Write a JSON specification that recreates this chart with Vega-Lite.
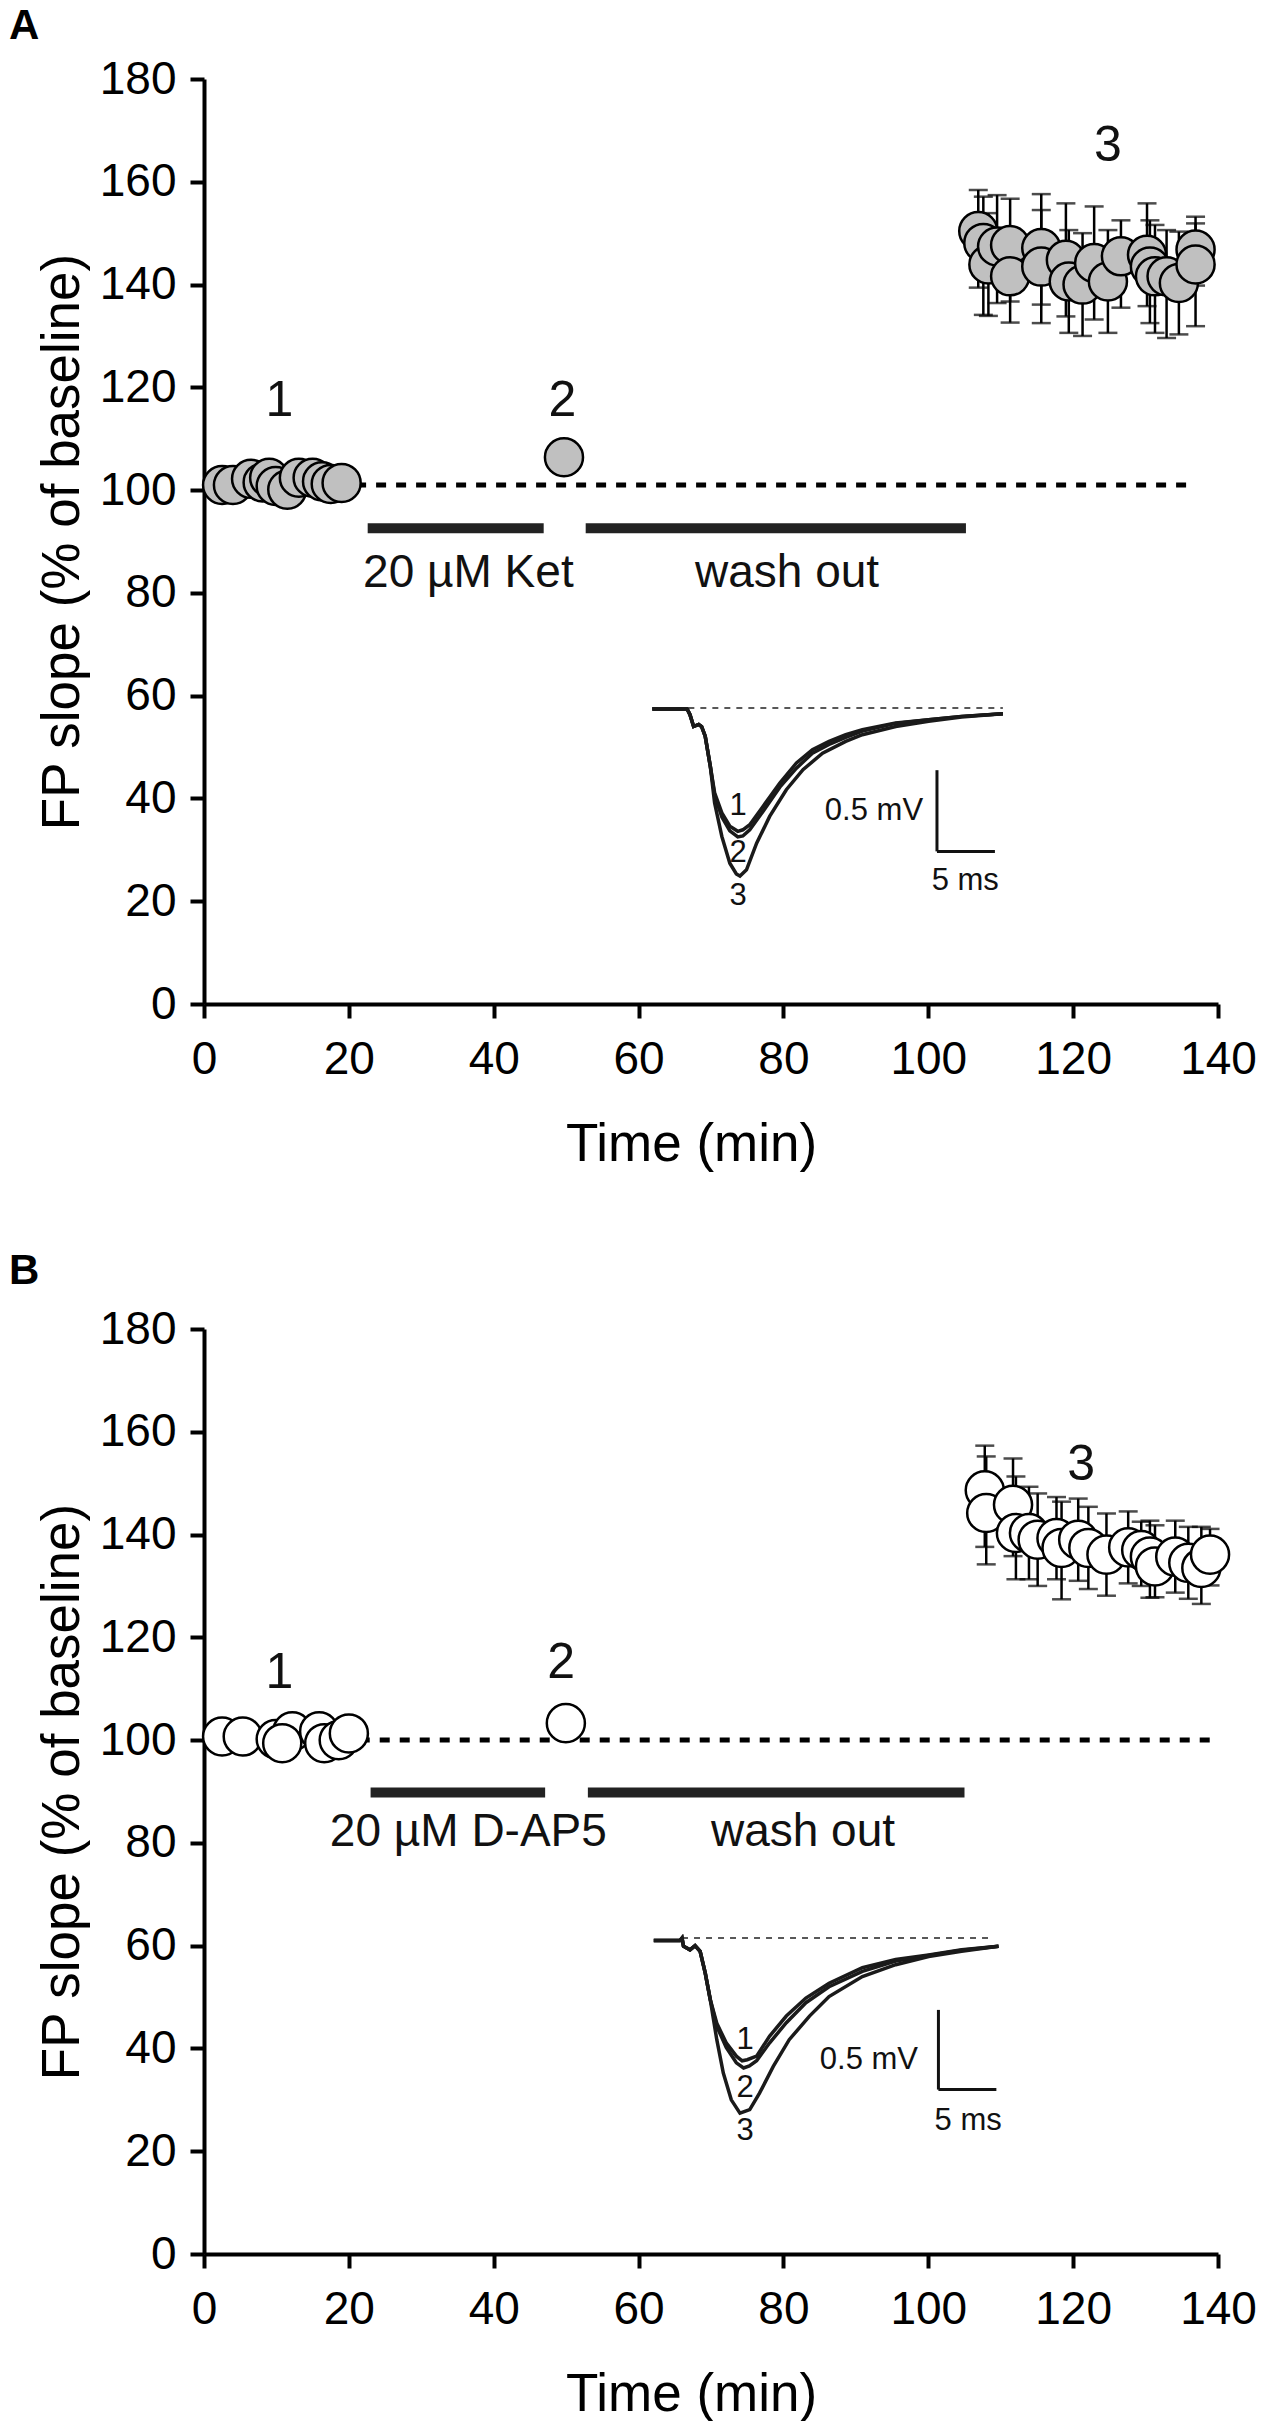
{
  "$schema": "https://vega.github.io/schema/vega-lite/v6.json",
  "background": "white",
  "padding": {"left": 9, "top": 5, "right": 0, "bottom": 0},
  "config": {
    "view": {"stroke": null},
    "font": "Liberation Sans",
    "axis": {
      "grid": false, "domainColor": "black", "domainWidth": 4, "tickColor": "black", "tickWidth": 4, "tickSize": 14,
      "labelFont": "Liberation Sans", "labelFontSize": 46, "labelColor": "black", "labelOverlap": false, "labelFlush": false,
      "titleFont": "Liberation Sans", "titleFontSize": 53, "titleFontWeight": "normal", "titleColor": "black"
    },
    "axisX": {"labelPadding": 19, "titlePadding": 36, "titleX": 487},
    "axisY": {"labelPadding": 14, "titlePadding": 10}
  },
  "spacing": 325,
  "bounds": "flush",
  "datasets": {
    "A": [
      {"kind": "base", "t": 21, "t2": 136, "y": 101, "y2": 101},
      {"kind": "bar", "t": 22.6, "t2": 46.9, "y": 92.6, "y2": 92.6},
      {"kind": "bar", "t": 52.7, "t2": 105.2, "y": 92.6, "y2": 92.6},
      {"kind": "idash", "t": 61.9, "t2": 110.3, "y": 57.6, "y2": 57.6},
      {"kind": "scale", "t": 101.2, "t2": 101.2, "y": 29.7, "y2": 45.5},
      {"kind": "scale", "t": 101.2, "t2": 109.2, "y": 29.7, "y2": 29.7},

      {"kind": "trace", "id": "1", "t": 61.9, "y": 57.4}, {"kind": "trace", "id": "1", "t": 66.7, "y": 57.4},
      {"kind": "trace", "id": "1", "t": 67.1, "y": 56.3}, {"kind": "trace", "id": "1", "t": 67.6, "y": 54.0},
      {"kind": "trace", "id": "1", "t": 68.3, "y": 54.4}, {"kind": "trace", "id": "1", "t": 68.7, "y": 54.0},
      {"kind": "trace", "id": "1", "t": 69.2, "y": 52.1}, {"kind": "trace", "id": "1", "t": 69.9, "y": 46.3},
      {"kind": "trace", "id": "1", "t": 70.5, "y": 41.1}, {"kind": "trace", "id": "1", "t": 71.5, "y": 37.2},
      {"kind": "trace", "id": "1", "t": 72.6, "y": 34.6}, {"kind": "trace", "id": "1", "t": 73.7, "y": 33.6},
      {"kind": "trace", "id": "1", "t": 74.4, "y": 33.9}, {"kind": "trace", "id": "1", "t": 75.35, "y": 34.9},
      {"kind": "trace", "id": "1", "t": 77.2, "y": 38.5}, {"kind": "trace", "id": "1", "t": 79.5, "y": 43.0},
      {"kind": "trace", "id": "1", "t": 81.8, "y": 46.9}, {"kind": "trace", "id": "1", "t": 84.0, "y": 49.5},
      {"kind": "trace", "id": "1", "t": 86.3, "y": 51.1}, {"kind": "trace", "id": "1", "t": 88.6, "y": 52.4},
      {"kind": "trace", "id": "1", "t": 90.9, "y": 53.4}, {"kind": "trace", "id": "1", "t": 95.5, "y": 54.7},
      {"kind": "trace", "id": "1", "t": 100.05, "y": 55.3}, {"kind": "trace", "id": "1", "t": 104.6, "y": 55.97},
      {"kind": "trace", "id": "1", "t": 110.3, "y": 56.5},

      {"kind": "trace", "id": "2", "t": 61.9, "y": 57.4}, {"kind": "trace", "id": "2", "t": 66.7, "y": 57.4},
      {"kind": "trace", "id": "2", "t": 67.1, "y": 56.3}, {"kind": "trace", "id": "2", "t": 67.6, "y": 54.0},
      {"kind": "trace", "id": "2", "t": 68.3, "y": 54.4}, {"kind": "trace", "id": "2", "t": 68.7, "y": 54.0},
      {"kind": "trace", "id": "2", "t": 69.2, "y": 52.1}, {"kind": "trace", "id": "2", "t": 69.9, "y": 46.3},
      {"kind": "trace", "id": "2", "t": 70.5, "y": 40.6}, {"kind": "trace", "id": "2", "t": 71.5, "y": 36.4},
      {"kind": "trace", "id": "2", "t": 72.6, "y": 33.7}, {"kind": "trace", "id": "2", "t": 73.7, "y": 32.5},
      {"kind": "trace", "id": "2", "t": 74.4, "y": 32.7}, {"kind": "trace", "id": "2", "t": 75.35, "y": 33.9},
      {"kind": "trace", "id": "2", "t": 77.2, "y": 37.5}, {"kind": "trace", "id": "2", "t": 79.5, "y": 42.2},
      {"kind": "trace", "id": "2", "t": 81.8, "y": 45.9}, {"kind": "trace", "id": "2", "t": 84.0, "y": 48.8},
      {"kind": "trace", "id": "2", "t": 86.3, "y": 50.5}, {"kind": "trace", "id": "2", "t": 88.6, "y": 51.9},
      {"kind": "trace", "id": "2", "t": 90.9, "y": 53.1}, {"kind": "trace", "id": "2", "t": 95.5, "y": 54.6},
      {"kind": "trace", "id": "2", "t": 100.05, "y": 55.3}, {"kind": "trace", "id": "2", "t": 104.6, "y": 55.97},
      {"kind": "trace", "id": "2", "t": 110.3, "y": 56.5},

      {"kind": "trace", "id": "3", "t": 61.9, "y": 57.4}, {"kind": "trace", "id": "3", "t": 66.7, "y": 57.4},
      {"kind": "trace", "id": "3", "t": 67.1, "y": 56.3}, {"kind": "trace", "id": "3", "t": 67.6, "y": 54.0},
      {"kind": "trace", "id": "3", "t": 68.3, "y": 54.4}, {"kind": "trace", "id": "3", "t": 68.7, "y": 54.0},
      {"kind": "trace", "id": "3", "t": 69.2, "y": 52.1}, {"kind": "trace", "id": "3", "t": 69.9, "y": 46.3},
      {"kind": "trace", "id": "3", "t": 70.5, "y": 39.1}, {"kind": "trace", "id": "3", "t": 71.5, "y": 32.6},
      {"kind": "trace", "id": "3", "t": 72.6, "y": 27.4}, {"kind": "trace", "id": "3", "t": 73.5, "y": 25.3},
      {"kind": "trace", "id": "3", "t": 74.0, "y": 24.9}, {"kind": "trace", "id": "3", "t": 74.9, "y": 26.1},
      {"kind": "trace", "id": "3", "t": 76.3, "y": 31.3}, {"kind": "trace", "id": "3", "t": 78.1, "y": 36.5},
      {"kind": "trace", "id": "3", "t": 80.4, "y": 41.7}, {"kind": "trace", "id": "3", "t": 82.7, "y": 45.6},
      {"kind": "trace", "id": "3", "t": 85.4, "y": 48.8}, {"kind": "trace", "id": "3", "t": 88.6, "y": 51.1},
      {"kind": "trace", "id": "3", "t": 90.9, "y": 52.4}, {"kind": "trace", "id": "3", "t": 95.5, "y": 54.0},
      {"kind": "trace", "id": "3", "t": 100.05, "y": 55.0}, {"kind": "trace", "id": "3", "t": 104.6, "y": 55.85},
      {"kind": "trace", "id": "3", "t": 110.3, "y": 56.5},

      {"kind": "pt", "t": 2.5, "y": 101.0}, {"kind": "pt", "t": 4.0, "y": 101.0},
      {"kind": "pt", "t": 6.5, "y": 102.2}, {"kind": "pt", "t": 8.1, "y": 101.5},
      {"kind": "pt", "t": 9.0, "y": 102.4}, {"kind": "pt", "t": 9.9, "y": 100.8},
      {"kind": "pt", "t": 11.5, "y": 100.1}, {"kind": "pt", "t": 13.1, "y": 102.4},
      {"kind": "pt", "t": 15.0, "y": 102.4}, {"kind": "pt", "t": 16.3, "y": 101.7},
      {"kind": "pt", "t": 17.5, "y": 101.2}, {"kind": "pt", "t": 19.0, "y": 101.4},
      {"kind": "pt", "t": 49.7, "y": 106.4},
      {"kind": "pt", "t": 106.9, "y": 150.4, "lo": 139.4, "hi": 158.4},
      {"kind": "pt", "t": 107.6, "y": 148.1, "lo": 134.1, "hi": 157.1},
      {"kind": "pt", "t": 108.3, "y": 143.9, "lo": 133.9, "hi": 153.9},
      {"kind": "pt", "t": 109.5, "y": 147.4, "lo": 136.4, "hi": 157.4},
      {"kind": "pt", "t": 111.3, "y": 147.7, "lo": 136.7, "hi": 156.7},
      {"kind": "pt", "t": 111.3, "y": 141.6, "lo": 132.6, "hi": 150.6},
      {"kind": "pt", "t": 115.6, "y": 147.1, "lo": 136.1, "hi": 157.6},
      {"kind": "pt", "t": 115.6, "y": 143.5, "lo": 132.5, "hi": 154.5},
      {"kind": "pt", "t": 119.0, "y": 144.8, "lo": 133.8, "hi": 155.8},
      {"kind": "pt", "t": 119.4, "y": 140.6, "lo": 130.6, "hi": 150.6},
      {"kind": "pt", "t": 121.3, "y": 140.0, "lo": 130.0, "hi": 150.0},
      {"kind": "pt", "t": 122.9, "y": 144.2, "lo": 133.2, "hi": 155.2},
      {"kind": "pt", "t": 124.8, "y": 140.6, "lo": 130.6, "hi": 150.6},
      {"kind": "pt", "t": 126.6, "y": 145.5, "lo": 135.5, "hi": 152.5},
      {"kind": "pt", "t": 130.2, "y": 145.8, "lo": 135.8, "hi": 155.8},
      {"kind": "pt", "t": 130.6, "y": 143.5, "lo": 132.5, "hi": 152.5},
      {"kind": "pt", "t": 131.3, "y": 141.6, "lo": 130.6, "hi": 151.6},
      {"kind": "pt", "t": 132.9, "y": 141.6, "lo": 129.6, "hi": 150.6},
      {"kind": "pt", "t": 134.6, "y": 140.3, "lo": 130.3, "hi": 150.3},
      {"kind": "pt", "t": 136.9, "y": 146.8, "lo": 139.8, "hi": 153.2},
      {"kind": "pt", "t": 136.9, "y": 143.9, "lo": 131.9, "hi": 151.9},

      {"kind": "big", "t": 10.4, "y": 117.3, "label": "1"},
      {"kind": "big", "t": 49.5, "y": 117.3, "label": "2"},
      {"kind": "big", "t": 124.8, "y": 167.0, "label": "3"},
      {"kind": "mid", "t": 36.5, "y": 83.9, "label": "20 µM Ket"},
      {"kind": "mid", "t": 80.5, "y": 83.9, "label": "wash out"},
      {"kind": "small", "t": 92.5, "y": 37.5, "label": "0.5 mV"},
      {"kind": "small", "t": 105.1, "y": 23.9, "label": "5 ms"},
      {"kind": "small", "t": 73.75, "y": 38.5, "label": "1"},
      {"kind": "small", "t": 73.75, "y": 29.4, "label": "2"},
      {"kind": "small", "t": 73.75, "y": 21.0, "label": "3"}
    ],
    "B": [
      {"kind": "base", "t": 21.5, "t2": 140, "y": 100, "y2": 100},
      {"kind": "bar", "t": 23.0, "t2": 47.1, "y": 89.8, "y2": 89.8},
      {"kind": "bar", "t": 53.0, "t2": 105.0, "y": 89.8, "y2": 89.8},
      {"kind": "idash", "t": 66.0, "t2": 108.7, "y": 61.5, "y2": 61.5},
      {"kind": "scale", "t": 101.4, "t2": 101.4, "y": 32.0, "y2": 47.5},
      {"kind": "scale", "t": 101.4, "t2": 109.4, "y": 32.0, "y2": 32.0},

      {"kind": "trace", "id": "1", "t": 62.1, "y": 61.0}, {"kind": "trace", "id": "1", "t": 65.7, "y": 61.0},
      {"kind": "trace", "id": "1", "t": 66.0, "y": 61.5}, {"kind": "trace", "id": "1", "t": 66.2, "y": 59.9},
      {"kind": "trace", "id": "1", "t": 67.1, "y": 59.2}, {"kind": "trace", "id": "1", "t": 67.8, "y": 60.0},
      {"kind": "trace", "id": "1", "t": 68.5, "y": 58.9}, {"kind": "trace", "id": "1", "t": 69.2, "y": 54.7},
      {"kind": "trace", "id": "1", "t": 69.9, "y": 49.5}, {"kind": "trace", "id": "1", "t": 70.8, "y": 44.9},
      {"kind": "trace", "id": "1", "t": 72.1, "y": 41.1}, {"kind": "trace", "id": "1", "t": 73.5, "y": 38.5},
      {"kind": "trace", "id": "1", "t": 74.3, "y": 37.6}, {"kind": "trace", "id": "1", "t": 75.0, "y": 37.8},
      {"kind": "trace", "id": "1", "t": 76.3, "y": 38.5}, {"kind": "trace", "id": "1", "t": 78.1, "y": 42.4},
      {"kind": "trace", "id": "1", "t": 80.4, "y": 46.3}, {"kind": "trace", "id": "1", "t": 83.1, "y": 49.8},
      {"kind": "trace", "id": "1", "t": 86.3, "y": 52.7}, {"kind": "trace", "id": "1", "t": 90.9, "y": 55.7},
      {"kind": "trace", "id": "1", "t": 95.5, "y": 57.3}, {"kind": "trace", "id": "1", "t": 100.05, "y": 58.2},
      {"kind": "trace", "id": "1", "t": 104.6, "y": 59.2}, {"kind": "trace", "id": "1", "t": 109.7, "y": 59.9},

      {"kind": "trace", "id": "2", "t": 62.1, "y": 61.0}, {"kind": "trace", "id": "2", "t": 65.7, "y": 61.0},
      {"kind": "trace", "id": "2", "t": 66.0, "y": 61.5}, {"kind": "trace", "id": "2", "t": 66.2, "y": 59.9},
      {"kind": "trace", "id": "2", "t": 67.1, "y": 59.2}, {"kind": "trace", "id": "2", "t": 67.8, "y": 60.0},
      {"kind": "trace", "id": "2", "t": 68.5, "y": 58.9}, {"kind": "trace", "id": "2", "t": 69.2, "y": 54.7},
      {"kind": "trace", "id": "2", "t": 69.9, "y": 49.5}, {"kind": "trace", "id": "2", "t": 70.8, "y": 44.3},
      {"kind": "trace", "id": "2", "t": 72.1, "y": 40.2}, {"kind": "trace", "id": "2", "t": 73.5, "y": 37.2},
      {"kind": "trace", "id": "2", "t": 74.5, "y": 36.2}, {"kind": "trace", "id": "2", "t": 75.3, "y": 36.6},
      {"kind": "trace", "id": "2", "t": 76.3, "y": 37.6}, {"kind": "trace", "id": "2", "t": 78.1, "y": 41.1},
      {"kind": "trace", "id": "2", "t": 80.4, "y": 45.0}, {"kind": "trace", "id": "2", "t": 83.1, "y": 48.9},
      {"kind": "trace", "id": "2", "t": 86.3, "y": 52.0}, {"kind": "trace", "id": "2", "t": 90.9, "y": 55.0},
      {"kind": "trace", "id": "2", "t": 95.5, "y": 57.0}, {"kind": "trace", "id": "2", "t": 100.05, "y": 58.1},
      {"kind": "trace", "id": "2", "t": 104.6, "y": 59.1}, {"kind": "trace", "id": "2", "t": 109.7, "y": 59.9},

      {"kind": "trace", "id": "3", "t": 62.1, "y": 61.0}, {"kind": "trace", "id": "3", "t": 65.7, "y": 61.0},
      {"kind": "trace", "id": "3", "t": 66.0, "y": 61.5}, {"kind": "trace", "id": "3", "t": 66.2, "y": 59.9},
      {"kind": "trace", "id": "3", "t": 67.1, "y": 59.2}, {"kind": "trace", "id": "3", "t": 67.8, "y": 60.0},
      {"kind": "trace", "id": "3", "t": 68.5, "y": 58.9}, {"kind": "trace", "id": "3", "t": 69.2, "y": 54.7},
      {"kind": "trace", "id": "3", "t": 69.9, "y": 49.5}, {"kind": "trace", "id": "3", "t": 70.8, "y": 41.7},
      {"kind": "trace", "id": "3", "t": 71.7, "y": 35.2}, {"kind": "trace", "id": "3", "t": 72.8, "y": 30.0},
      {"kind": "trace", "id": "3", "t": 74.0, "y": 27.4}, {"kind": "trace", "id": "3", "t": 75.35, "y": 28.1},
      {"kind": "trace", "id": "3", "t": 76.7, "y": 31.3}, {"kind": "trace", "id": "3", "t": 78.6, "y": 36.5},
      {"kind": "trace", "id": "3", "t": 80.8, "y": 41.7}, {"kind": "trace", "id": "3", "t": 83.6, "y": 46.3},
      {"kind": "trace", "id": "3", "t": 86.3, "y": 50.1}, {"kind": "trace", "id": "3", "t": 90.9, "y": 54.0},
      {"kind": "trace", "id": "3", "t": 95.5, "y": 56.3}, {"kind": "trace", "id": "3", "t": 100.05, "y": 57.9},
      {"kind": "trace", "id": "3", "t": 104.6, "y": 58.9}, {"kind": "trace", "id": "3", "t": 109.7, "y": 59.9},

      {"kind": "pt", "t": 2.5, "y": 100.7}, {"kind": "pt", "t": 5.35, "y": 100.7},
      {"kind": "pt", "t": 9.9, "y": 100.2}, {"kind": "pt", "t": 12.2, "y": 101.7},
      {"kind": "pt", "t": 10.8, "y": 99.4}, {"kind": "pt", "t": 15.9, "y": 101.7},
      {"kind": "pt", "t": 16.6, "y": 99.4}, {"kind": "pt", "t": 18.6, "y": 100.0},
      {"kind": "pt", "t": 20.0, "y": 101.3},
      {"kind": "pt", "t": 49.96, "y": 103.3},
      {"kind": "pt", "t": 107.8, "y": 148.6, "lo": 137.6, "hi": 157.3},
      {"kind": "pt", "t": 108.0, "y": 144.2, "lo": 134.2, "hi": 155.2},
      {"kind": "pt", "t": 111.7, "y": 145.8, "lo": 135.8, "hi": 154.8},
      {"kind": "pt", "t": 112.1, "y": 140.3, "lo": 131.3, "hi": 151.3},
      {"kind": "pt", "t": 113.9, "y": 140.3, "lo": 131.3, "hi": 149.3},
      {"kind": "pt", "t": 115.1, "y": 139.0, "lo": 130.0, "hi": 148.0},
      {"kind": "pt", "t": 117.7, "y": 139.3, "lo": 131.3, "hi": 147.3},
      {"kind": "pt", "t": 118.4, "y": 137.4, "lo": 127.4, "hi": 146.4},
      {"kind": "pt", "t": 120.7, "y": 139.0, "lo": 131.0, "hi": 147.0},
      {"kind": "pt", "t": 122.1, "y": 137.4, "lo": 129.4, "hi": 145.4},
      {"kind": "pt", "t": 124.6, "y": 136.1, "lo": 128.1, "hi": 144.1},
      {"kind": "pt", "t": 127.6, "y": 137.5, "lo": 130.5, "hi": 144.5},
      {"kind": "pt", "t": 129.4, "y": 137.0, "lo": 130.0, "hi": 142.5},
      {"kind": "pt", "t": 130.6, "y": 135.7, "lo": 127.7, "hi": 142.7},
      {"kind": "pt", "t": 131.3, "y": 133.8, "lo": 127.8, "hi": 141.8},
      {"kind": "pt", "t": 134.1, "y": 135.7, "lo": 128.7, "hi": 142.7},
      {"kind": "pt", "t": 135.9, "y": 134.5, "lo": 127.5, "hi": 141.5},
      {"kind": "pt", "t": 137.7, "y": 133.5, "lo": 126.5, "hi": 141.5},
      {"kind": "pt", "t": 138.9, "y": 136.1, "lo": 130.1, "hi": 141.1},

      {"kind": "big", "t": 10.4, "y": 113.1, "label": "1"},
      {"kind": "big", "t": 49.3, "y": 115.0, "label": "2"},
      {"kind": "big", "t": 121.1, "y": 153.6, "label": "3"},
      {"kind": "mid", "t": 36.5, "y": 82.1, "label": "20 µM D-AP5"},
      {"kind": "mid", "t": 82.7, "y": 82.1, "label": "wash out"},
      {"kind": "small", "t": 91.8, "y": 37.8, "label": "0.5 mV"},
      {"kind": "small", "t": 105.5, "y": 25.8, "label": "5 ms"},
      {"kind": "small", "t": 74.7, "y": 41.7, "label": "1"},
      {"kind": "small", "t": 74.7, "y": 32.3, "label": "2"},
      {"kind": "small", "t": 74.7, "y": 23.9, "label": "3"}
    ]
  },
  "vconcat": [
    {
      "title": {"text": "A", "anchor": "start", "frame": "group", "dx": -195, "offset": 8, "fontSize": 42, "fontWeight": "bold", "font": "Liberation Sans", "color": "black"},
      "data": {"name": "A"},
      "width": 1014,
      "height": 925,
      "encoding": {
        "x": {"field": "t", "type": "quantitative", "scale": {"domain": [0, 140], "nice": false}, "axis": {"values": [0, 20, 40, 60, 80, 100, 120, 140]}, "title": "Time (min)"},
        "y": {"field": "y", "type": "quantitative", "scale": {"domain": [0, 180], "nice": false}, "axis": {"values": [0, 20, 40, 60, 80, 100, 120, 140, 160, 180]}, "title": "FP slope (% of baseline)"}
      },
      "layer": [
        {"transform": [{"filter": "datum.kind === 'base'"}], "mark": {"type": "rule", "color": "black", "strokeWidth": 5, "strokeDash": [10, 10]}, "encoding": {"x2": {"field": "t2"}, "y2": {"field": "y2"}}},
        {"transform": [{"filter": "datum.kind === 'bar'"}], "mark": {"type": "rule", "color": "#222222", "strokeWidth": 10}, "encoding": {"x2": {"field": "t2"}, "y2": {"field": "y2"}}},
        {"transform": [{"filter": "datum.kind === 'idash'"}], "mark": {"type": "rule", "color": "#222222", "strokeWidth": 1.5, "strokeDash": [6, 6]}, "encoding": {"x2": {"field": "t2"}, "y2": {"field": "y2"}}},
        {"transform": [{"filter": "datum.kind === 'scale'"}], "mark": {"type": "rule", "color": "#111111", "strokeWidth": 3}, "encoding": {"x2": {"field": "t2"}, "y2": {"field": "y2"}}},
        {"transform": [{"filter": "datum.kind === 'trace'"}], "mark": {"type": "line", "color": "#1a1a1a", "strokeWidth": 3.5}, "encoding": {"detail": {"field": "id"}}},
        {"transform": [{"filter": "datum.kind === 'pt' && datum.lo != null"}], "mark": {"type": "errorbar", "ticks": true, "size": 19, "thickness": 2.5, "color": "black"}, "encoding": {"y": {"field": "lo", "type": "quantitative", "title": "FP slope (% of baseline)"}, "y2": {"field": "hi"}}},
        {"transform": [{"filter": "datum.kind === 'pt'"}], "mark": {"type": "point", "shape": "circle", "filled": true, "fill": "#c0c0c0", "stroke": "black", "strokeWidth": 2.5, "opacity": 1, "size": 1450}},
        {"transform": [{"filter": "datum.kind === 'big'"}], "mark": {"type": "text", "fontSize": 50, "color": "#111111", "baseline": "middle", "align": "center"}, "encoding": {"text": {"field": "label"}}},
        {"transform": [{"filter": "datum.kind === 'mid'"}], "mark": {"type": "text", "fontSize": 46, "color": "#111111", "baseline": "middle", "align": "center"}, "encoding": {"text": {"field": "label"}}},
        {"transform": [{"filter": "datum.kind === 'small'"}], "mark": {"type": "text", "fontSize": 31, "color": "#111111", "baseline": "middle", "align": "center"}, "encoding": {"text": {"field": "label"}}}
      ]
    },
    {
      "title": {"text": "B", "anchor": "start", "frame": "group", "dx": -195, "offset": 13, "fontSize": 42, "fontWeight": "bold", "font": "Liberation Sans", "color": "black"},
      "data": {"name": "B"},
      "width": 1014,
      "height": 925,
      "encoding": {
        "x": {"field": "t", "type": "quantitative", "scale": {"domain": [0, 140], "nice": false}, "axis": {"values": [0, 20, 40, 60, 80, 100, 120, 140]}, "title": "Time (min)"},
        "y": {"field": "y", "type": "quantitative", "scale": {"domain": [0, 180], "nice": false}, "axis": {"values": [0, 20, 40, 60, 80, 100, 120, 140, 160, 180]}, "title": "FP slope (% of baseline)"}
      },
      "layer": [
        {"transform": [{"filter": "datum.kind === 'base'"}], "mark": {"type": "rule", "color": "black", "strokeWidth": 5, "strokeDash": [10, 10]}, "encoding": {"x2": {"field": "t2"}, "y2": {"field": "y2"}}},
        {"transform": [{"filter": "datum.kind === 'bar'"}], "mark": {"type": "rule", "color": "#222222", "strokeWidth": 10}, "encoding": {"x2": {"field": "t2"}, "y2": {"field": "y2"}}},
        {"transform": [{"filter": "datum.kind === 'idash'"}], "mark": {"type": "rule", "color": "#222222", "strokeWidth": 1.5, "strokeDash": [6, 6]}, "encoding": {"x2": {"field": "t2"}, "y2": {"field": "y2"}}},
        {"transform": [{"filter": "datum.kind === 'scale'"}], "mark": {"type": "rule", "color": "#111111", "strokeWidth": 3}, "encoding": {"x2": {"field": "t2"}, "y2": {"field": "y2"}}},
        {"transform": [{"filter": "datum.kind === 'trace'"}], "mark": {"type": "line", "color": "#1a1a1a", "strokeWidth": 3.5}, "encoding": {"detail": {"field": "id"}}},
        {"transform": [{"filter": "datum.kind === 'pt' && datum.lo != null"}], "mark": {"type": "errorbar", "ticks": true, "size": 19, "thickness": 2.5, "color": "black"}, "encoding": {"y": {"field": "lo", "type": "quantitative", "title": "FP slope (% of baseline)"}, "y2": {"field": "hi"}}},
        {"transform": [{"filter": "datum.kind === 'pt'"}], "mark": {"type": "point", "shape": "circle", "filled": true, "fill": "white", "stroke": "black", "strokeWidth": 2.5, "opacity": 1, "size": 1450}},
        {"transform": [{"filter": "datum.kind === 'big'"}], "mark": {"type": "text", "fontSize": 50, "color": "#111111", "baseline": "middle", "align": "center"}, "encoding": {"text": {"field": "label"}}},
        {"transform": [{"filter": "datum.kind === 'mid'"}], "mark": {"type": "text", "fontSize": 46, "color": "#111111", "baseline": "middle", "align": "center"}, "encoding": {"text": {"field": "label"}}},
        {"transform": [{"filter": "datum.kind === 'small'"}], "mark": {"type": "text", "fontSize": 31, "color": "#111111", "baseline": "middle", "align": "center"}, "encoding": {"text": {"field": "label"}}}
      ]
    }
  ]
}
